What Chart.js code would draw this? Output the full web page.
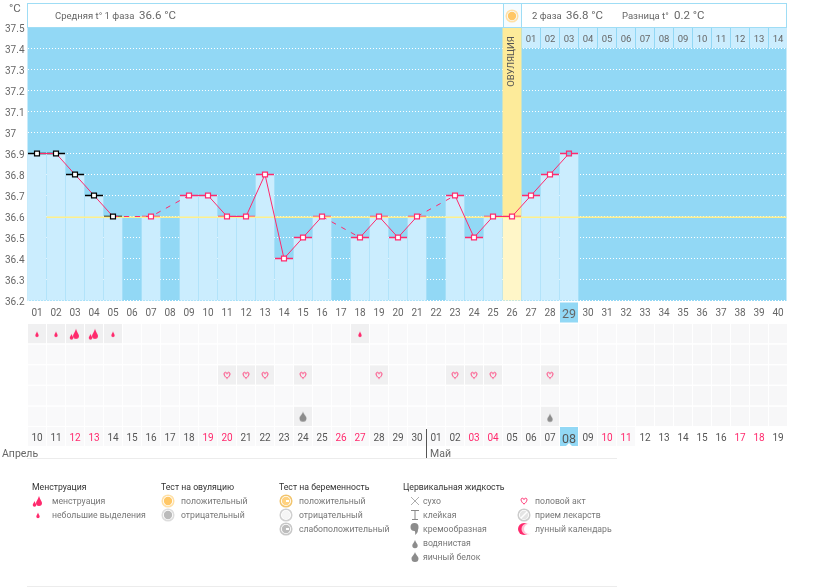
<!DOCTYPE html>
<html lang="ru">
<head>
<meta charset="UTF-8">
<title>График базальной температуры</title>
<script src="https://cdn.jsdelivr.net/npm/chart.js"></script>
<style>
    body { margin: 0; background: #fff; font-family: Roboto, sans-serif; color: #666; }
    #page { position: relative; width: 825px; height: 587px; overflow: hidden; }
    #page > * { position: absolute; }
    #tempChart { left: 0; top: 0; }
    #eventChart { left: 0; top: 322px; }
    .unit { left: 9px; top: 1px; font-size: 11.5px; }
    .box { top: 3px; height: 23px; background: #fff; border: 1px solid #9fddf5; box-sizing: content-box; }
    .head { top: 10px; font-size: 9.5px; white-space: nowrap; }
    .val { top: 8px; font-size: 11.5px; white-space: nowrap; }
    .month { top: 447px; font-size: 10.5px; }
    .rule { background: #ececec; height: 1px; left: 27px; width: 590px; }
    .title { font-size: 8.7px; color: #333; white-space: nowrap; }
    .item { font-size: 8.7px; color: #777; white-space: nowrap; }
</style>
</head>
<body>
<div id="page">
    <canvas id="tempChart" width="825" height="324"></canvas>
    <canvas id="eventChart" width="825" height="140"></canvas>
    <div class="unit">°C</div>
    <div class="box" style="left:27px;width:475px"></div>
    <div class="box" style="left:503px;width:17px;background:#f6fcff"></div>
    <div class="box" style="left:521px;width:264px"></div>
    <canvas id="sunIcon" width="14" height="14" style="left:505px;top:9px"></canvas>
    <div class="head" style="left:55px">Средняя t° 1 фаза</div>
    <div class="val" style="left:139px">36.6 °C</div>
    <div class="head" style="left:532px">2 фаза</div>
    <div class="val" style="left:566px">36.8 °C</div>
    <div class="head" style="left:622px">Разница t°</div>
    <div class="val" style="left:674px">0.2 °C</div>
    <div class="month" style="left:2px">Апрель</div>
    <div class="month" style="left:430px">Май</div>
    <div style="left:426px;top:429px;width:1px;height:29px;background:#555"></div>
    <div class="rule" style="top:458px"></div>
    <div class="rule" style="top:586px"></div>
</div>

<script>
    // Temperature chart data
    const cycleDays = ['01','02','03','04','05','06','07','08','09','10','11','12','13','14','15','16','17','18','19','20',
        '21','22','23','24','25','26','27','28','29','30','31','32','33','34','35','36','37','38','39','40'];
    const temperatures = [36.9,36.9,36.8,36.7,36.6,null,36.6,null,36.7,36.7,36.6,36.6,36.8,36.4,36.5,36.6,null,36.5,36.6,36.5,
        36.6,null,36.7,36.5,36.6,36.6,36.7,36.8,36.9];
    const coverLine = 36.6;
    const blackMarkerDays = 5;      // menstruation days get black markers
    const ovulationDay = 26;
    const todayDay = 29;
    const phaseTwoLabels = ['01','02','03','04','05','06','07','08','09','10','11','12','13','14'];

    // Calendar rows data
    const calendarDates = ['10','11','12','13','14','15','16','17','18','19','20','21','22','23','24','25','26','27','28','29','30',
        '01','02','03','04','05','06','07','08','09','10','11','12','13','14','15','16','17','18','19'];
    const weekendCols = [3,4,10,11,17,18,24,25,31,32,38,39];
    const rowNames = ['Менструация', 'Тест', 'Половой акт', 'Лекарства', 'Цервикальная жидкость'];
    const spottingDays = [1,2,5,18];
    const periodDays = [3,4];
    const intimacyDays = [11,12,13,15,19,23,24,25,28];
    const eggWhiteDays = [15];
    const wateryDays = [28];

    const BLUE = '#92d8f5', BAR = '#cbedfe', PINK = '#ff2a6d', GREY = '#8c8c8c';
    const FONT = "Roboto, sans-serif";

    // small canvas icons, used for the calendar points and the legend
    function icon(w, h, draw) {
        const c = document.createElement('canvas');
        c.width = w; c.height = h;
        const ctx = c.getContext('2d');
        draw(ctx, w, h);
        return c;
    }
    function dropPath(ctx, x, y, r, h, color) {
        ctx.fillStyle = color;
        ctx.beginPath();
        ctx.moveTo(x, y - h);
        ctx.bezierCurveTo(x + r * 0.3, y - h * 0.5, x + r, y - r * 0.6, x + r, y);
        ctx.arc(x, y, r, 0, Math.PI);
        ctx.bezierCurveTo(x - r, y - r * 0.6, x - r * 0.3, y - h * 0.5, x, y - h);
        ctx.fill();
    }
    function ring(ctx, fill, edge) {
        ctx.fillStyle = '#fff'; ctx.strokeStyle = edge; ctx.lineWidth = 1.5;
        ctx.beginPath(); ctx.arc(7, 7, 5.8, 0, 7); ctx.stroke();
        ctx.fillStyle = fill;
        ctx.beginPath(); ctx.arc(7, 7, 4.2, 0, 7); ctx.fill();
    }
    const icons = {
        small: () => icon(10, 10, c => dropPath(c, 5, 6.5, 1.7, 4, PINK)),
        period: () => icon(14, 14, c => { dropPath(c, 8, 9, 3, 7, PINK); dropPath(c, 3.5, 11, 1.8, 4, PINK); }),
        heart: () => icon(10, 10, c => {
            c.translate(1.3, 1.3); c.scale(0.62, 0.62);
            c.strokeStyle = PINK; c.lineWidth = 1.6;
            c.beginPath(); c.moveTo(6, 11);
            c.bezierCurveTo(0, 6.5, 0.4, 1.2, 3.5, 1.5); c.bezierCurveTo(5, 1.7, 5.6, 2.6, 6, 3.6);
            c.bezierCurveTo(6.4, 2.6, 7, 1.7, 8.5, 1.5); c.bezierCurveTo(11.6, 1.2, 12, 6.5, 6, 11);
            c.stroke();
        }),
        watery: () => icon(10, 14, c => dropPath(c, 5, 9.5, 2.7, 5.5, GREY)),
        eggWhite: () => icon(12, 14, c => dropPath(c, 6, 8.5, 3.5, 6.5, GREY)),
        sun: () => icon(14, 14, c => ring(c, '#ffc766', '#ffe0a6')),
        ovuNeg: () => icon(14, 14, c => ring(c, '#bbbbbb', '#dddddd')),
        pregPos: () => icon(14, 14, c => { ring(c, '#ffd27f', '#f2c56e'); c.fillStyle = '#fff'; c.fillRect(7, 6, 3, 2); }),
        pregNeg: () => icon(14, 14, c => ring(c, '#f5f5f5', '#d0d0d0')),
        pregWeak: () => icon(14, 14, c => { ring(c, '#bdbdbd', '#c8c8c8'); c.fillStyle = '#fff'; c.fillRect(7, 6, 3, 2); }),
        dry: () => icon(12, 12, c => {
            c.strokeStyle = '#999'; c.lineWidth = 0.8;
            c.beginPath(); c.moveTo(2, 2); c.lineTo(10, 10); c.moveTo(10, 2); c.lineTo(2, 10); c.stroke();
        }),
        sticky: () => icon(12, 12, c => {
            c.strokeStyle = '#888'; c.lineWidth = 1;
            c.beginPath(); c.moveTo(2, 1.5); c.lineTo(10, 1.5); c.moveTo(6, 1.5); c.lineTo(6, 10.5); c.moveTo(3, 10.5); c.lineTo(9, 10.5); c.stroke();
        }),
        creamy: () => icon(12, 14, c => {
            c.fillStyle = GREY;
            c.beginPath(); c.arc(5.5, 5, 4, 0, 7); c.fill();
            c.beginPath(); c.moveTo(9, 5); c.quadraticCurveTo(10, 10, 6, 13); c.quadraticCurveTo(7, 9, 4, 7); c.fill();
        }),
        pill: () => icon(14, 14, c => {
            ring(c, '#e4e4e4', '#cccccc');
            c.strokeStyle = '#fff'; c.lineWidth = 1.5;
            c.beginPath(); c.moveTo(4, 10); c.lineTo(10, 4); c.stroke();
        }),
        moon: () => icon(14, 14, c => {
            c.fillStyle = PINK; c.beginPath(); c.arc(7, 7, 6, 0, 7); c.fill();
            c.fillStyle = '#ffc4d6'; c.beginPath(); c.arc(10, 7, 5.5, 0, 7); c.fill();
            c.fillStyle = '#fff'; c.beginPath(); c.arc(12, 7, 5, 0, 7); c.fill();
        })
    };

    // Plugin for the painted parts of the temperature chart
    const tempBackground = {
        id: 'tempBackground',
        beforeDraw(chart) {
            const { ctx, chartArea: a, scales: { x, y } } = chart;
            ctx.save();
            ctx.fillStyle = BLUE;
            ctx.fillRect(a.left, a.top, a.width - 1, a.height + 0.5);
            ctx.fillRect(x.getPixelForValue(todayDay - 1) - 9, a.bottom + 2, 18, 20);
            ctx.restore();
        },
        beforeDatasetsDraw(chart) {
            const { ctx, chartArea: a, scales: { x, y } } = chart;
            const ox = x.getPixelForValue(ovulationDay - 1);
            ctx.save();
            ctx.fillStyle = '#fdeb9a';
            ctx.fillRect(ox - 9.5, a.top, 19, y.getPixelForValue(coverLine) - a.top);
            ctx.fillStyle = BAR;
            phaseTwoLabels.forEach((_, i) => {
                ctx.fillRect(x.getPixelForValue(ovulationDay + i) - 9, a.top + 0.5, 18, 20);
            });
            ctx.fillStyle = '#666';
            ctx.font = '9.5px ' + FONT;
            ctx.textAlign = 'center';
            ctx.textBaseline = 'middle';
            phaseTwoLabels.forEach((label, i) => {
                ctx.fillText(label, x.getPixelForValue(ovulationDay + i), a.top + 12);
            });
            ctx.translate(ox, a.top + 34);
            ctx.rotate(-Math.PI / 2);
            ctx.fillStyle = '#555';
            ctx.fillText('ОВУЛЯЦИЯ', 0, 0);
            ctx.restore();
        },
        afterDatasetDraw(chart, args) {
            // yellow coverline goes over the dashes and under the square markers
            if (args.index !== 1) return;
            const { ctx, chartArea: a, scales: { x, y } } = chart;
            ctx.save();
            ctx.strokeStyle = '#fff08c';
            ctx.lineWidth = 1.5;
            ctx.beginPath();
            const py = y.getPixelForValue(coverLine) + 0.8;
            ctx.moveTo(x.getPixelForValue(1) - 9.5, py);
            ctx.lineTo(a.right - 1, py);
            ctx.stroke();
            ctx.restore();
        }
    };

    new Chart(document.getElementById('tempChart'), {
        type: 'bar',
        data: {
            labels: cycleDays,
            datasets: [
                {
                    type: 'line',
                    data: temperatures,
                    order: 0,
                    spanGaps: true,
                    borderColor: PINK,
                    borderWidth: 1,
                    segment: { borderDash: c => (c.p0.skip || c.p1.skip ? [5, 6] : undefined) },
                    pointStyle: 'rect',
                    pointRadius: 3.5,
                    pointBorderWidth: 1.2,
                    pointBackgroundColor: c => (c.dataIndex === todayDay - 1 ? '#7fc5e6' : '#fff'),
                    pointBorderColor: c => (c.dataIndex < blackMarkerDays ? '#000' : PINK)
                },
                {
                    type: 'line',
                    data: temperatures,
                    order: 1,
                    showLine: false,
                    pointStyle: 'line',
                    pointRadius: 9,
                    pointBorderWidth: 1.5,
                    pointBorderColor: c => (c.dataIndex < blackMarkerDays ? '#000' : PINK)
                },
                {
                    data: temperatures,
                    order: 2,
                    barThickness: 18,
                    backgroundColor: c => (c.dataIndex === ovulationDay - 1 ? '#fff6c8' : BAR)
                }
            ]
        },
        options: {
            responsive: false,
            animation: false,
            devicePixelRatio: 1,
            layout: { autoPadding: false, padding: { left: 5, top: 27.5, right: 37.5, bottom: 0 } },
            plugins: { legend: { display: false }, tooltip: { enabled: false } },
            scales: {
                x: {
                    grid: { display: false, drawTicks: false },
                    border: { display: false },
                    afterFit: s => { s.height = 23.5; },
                    ticks: {
                        autoSkip: false,
                        maxRotation: 0,
                        padding: 7,
                        color: '#666',
                        font: c => ({ family: FONT, size: c.index === todayDay - 1 ? 12.5 : 10 })
                    }
                },
                y: {
                    min: 36.2,
                    max: 37.5,
                    grid: {
                        color: c => (c.tick.value > 37.45 ? 'transparent' : '#fff'),
                        tickLength: 0,
                        drawTicks: false
                    },
                    border: { display: false, dash: [1, 2] },
                    afterFit: s => { s.width = 22.5; },
                    ticks: {
                        stepSize: 0.1,
                        crossAlign: 'far',
                        labelOffset: 2,
                        color: '#666',
                        font: { family: FONT, size: 10 },
                        callback: v => String(+v.toFixed(1))
                    }
                }
            }
        },
        plugins: [tempBackground]
    });

    // Plugin for the grey calendar cells
    const calendarCells = {
        id: 'calendarCells',
        beforeDraw(chart) {
            const { ctx, chartArea: a, scales: { x, y } } = chart;
            const rowH = y.getPixelForValue(1) - y.getPixelForValue(0);
            const isEvent = (col, row) => (row === 0 && (spottingDays.includes(col) || periodDays.includes(col)))
                || (row === 2 && intimacyDays.includes(col))
                || (row === 4 && (eggWhiteDays.includes(col) || wateryDays.includes(col)));
            ctx.save();
            calendarDates.forEach((_, i) => {
                const px = x.getPixelForValue(i) - 9;
                rowNames.forEach((_, r) => {
                    ctx.fillStyle = isEvent(i + 1, r) ? '#f0f0f1' : (i < 32 ? '#f9f9fa' : '#f7f7f8');
                    ctx.fillRect(px, y.getPixelForValue(r) - rowH / 2 + 0.5, 18, rowH - 1.5);
                });
                if (i === todayDay - 1) {
                    ctx.fillStyle = BLUE;
                    ctx.fillRect(px, a.bottom, 18, 19);
                    ctx.fillStyle = '#fff';
                    ctx.beginPath();
                    ctx.moveTo(px + 6, a.bottom + 19);
                    ctx.lineTo(px + 9, a.bottom + 16);
                    ctx.lineTo(px + 12, a.bottom + 19);
                    ctx.fill();
                } else if (i < 32) {
                    ctx.fillStyle = '#f9f9fa';
                    ctx.fillRect(px, a.bottom, 18, 19);
                }
            });
            ctx.restore();
        }
    };

    // row name on the listed days, null elsewhere
    const rowPoints = (days, row) => calendarDates.map((_, i) => (days.includes(i + 1) ? row : null));
    const eventSet = (days, row, style) => ({
        type: 'line',
        data: rowPoints(days, row),
        showLine: false,
        pointStyle: style,
        pointRadius: 6
    });

    new Chart(document.getElementById('eventChart'), {
        type: 'line',
        data: {
            labels: calendarDates,
            datasets: [
                eventSet(spottingDays, rowNames[0], icons.small()),
                eventSet(periodDays, rowNames[0], icons.period()),
                eventSet(intimacyDays, rowNames[2], icons.heart()),
                eventSet(eggWhiteDays, rowNames[4], icons.eggWhite()),
                eventSet(wateryDays, rowNames[4], icons.watery())
            ]
        },
        options: {
            responsive: false,
            animation: false,
            devicePixelRatio: 1,
            layout: { autoPadding: false, padding: { left: 27.5, top: 1.5, right: 37.5, bottom: 0 } },
            plugins: { legend: { display: false }, tooltip: { enabled: false } },
            scales: {
                x: {
                    offset: true,
                    grid: { display: false, drawTicks: false },
                    border: { display: false },
                    afterFit: s => { s.height = 35; },
                    ticks: {
                        autoSkip: false,
                        maxRotation: 0,
                        padding: 5,
                        color: c => (weekendCols.includes(c.index + 1) ? PINK : '#555'),
                        font: c => ({ family: FONT, size: c.index === todayDay - 1 ? 12.5 : 10 })
                    }
                },
                y: { type: 'category', labels: rowNames, offset: true, display: false }
            }
        },
        plugins: [calendarCells]
    });

    document.getElementById('sunIcon').getContext('2d').drawImage(icons.sun(), 0, 0);

    // Legend, text stays real HTML text
    const legend = [
        { title: 'Менструация', x: 32, iconX: 38, textX: 52, items: [['period', 'менструация'], ['small', 'небольшие выделения']] },
        { title: 'Тест на овуляцию', x: 161, iconX: 168, textX: 181, items: [['sun', 'положительный'], ['ovuNeg', 'отрицательный']] },
        { title: 'Тест на беременность', x: 279, iconX: 286, textX: 299, items: [['pregPos', 'положительный'], ['pregNeg', 'отрицательный'], ['pregWeak', 'слабоположительный']] },
        { title: 'Цервикальная жидкость', x: 403, iconX: 415, textX: 423, items: [['dry', 'сухо'], ['sticky', 'клейкая'], ['creamy', 'кремообразная'], ['watery', 'водянистая'], ['eggWhite', 'яичный белок']] },
        { title: '', x: 0, iconX: 524, textX: 535, items: [['heart', 'половой акт'], ['pill', 'прием лекарств'], ['moon', 'лунный календарь']] }
    ];
    const page = document.getElementById('page');
    function addText(cls, text, x, y) {
        const el = document.createElement('div');
        el.className = cls;
        el.textContent = text;
        el.style.left = x + 'px';
        el.style.top = y + 'px';
        page.appendChild(el);
    }
    legend.forEach(col => {
        if (col.title) addText('title', col.title, col.x, 482);
        col.items.forEach(([name, text], i) => {
            const y = 501 + i * 14;
            const c = icons[name]();
            c.style.left = (col.iconX - c.width / 2) + 'px';
            c.style.top = (y - c.height / 2) + 'px';
            page.appendChild(c);
            addText('item', text, col.textX, y - 5);
        });
    });
</script>
</body>
</html>
